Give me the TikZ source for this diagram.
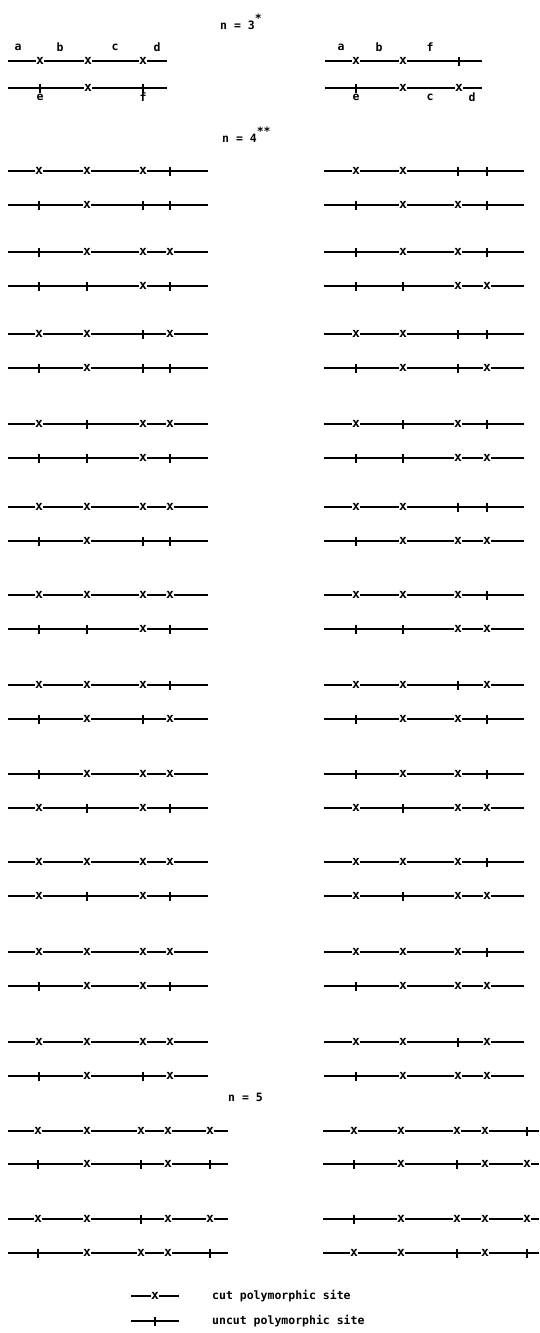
\documentclass[tikz,border=0pt]{standalone}
\usepackage{fontspec}
\setmonofont{DejaVu Sans Mono}
\begin{document}
\begin{tikzpicture}[x=1pt,y=-1pt,
  every node/.style={font=\ttfamily\bfseries\fontsize{11.5}{13}\selectfont},
  siteline/.style={line width=1.1pt},
  site x/.pic={\node[fill=white,inner sep=0.4pt,font=\ttfamily\bfseries\fontsize{13}{13}\selectfont] {x};},
  site u/.pic={\draw[line width=1.2pt] (0,-4.5) -- (0,4.5);},
  lbl/.style={inner sep=0pt},
  heading/.style={inner sep=0pt,anchor=west}]
  \useasboundingbox (0,0) rectangle (539,1333);

  % n = 3
  \node[heading] (head3) at (220,22) {n = 3\rlap{\raisebox{1.1ex}{*}}};
  \draw[siteline] (8,61) -- (167,61);
  \draw[siteline] (8,88) -- (167,88);
  \pic at (40,61) {site x}; \pic at (88,61) {site x}; \pic at (143,61) {site x};
  \pic at (40,88) {site u}; \pic at (88,88) {site x}; \pic at (143,88) {site u};
  \node[lbl] (la) at (18,47) {a};
  \node[lbl] (lb) at (60,47) {b};
  \node[lbl] (lc) at (115,47) {c};
  \node[lbl] (ld) at (157,47) {d};
  \node[lbl] (le) at (40,97) {e};
  \node[lbl] (lf) at (143,97) {f};

  \draw[siteline] (325,61) -- (482,61);
  \draw[siteline] (325,88) -- (482,88);
  \pic at (356,61) {site x}; \pic at (403,61) {site x}; \pic at (459,61) {site u};
  \pic at (356,88) {site u}; \pic at (403,88) {site x}; \pic at (459,88) {site x};
  \node[lbl] (ra) at (341,47) {a};
  \node[lbl] (rb) at (379,47) {b};
  \node[lbl] (rf) at (430,47) {f};
  \node[lbl] (re) at (356,97) {e};
  \node[lbl] (rc) at (430,97) {c};
  \node[lbl] (rd) at (472,97) {d};

  % n = 4
  \node[heading] (head4) at (222,135) {n = 4\rlap{\raisebox{1.1ex}{**}}};
  \foreach \y/\a/\b/\c/\d in {171/x/x/x/u, 205/u/x/u/u, 252/u/x/x/x, 286/u/u/x/u,
      334/x/x/u/x, 368/u/x/u/u, 424/x/u/x/x, 458/u/u/x/u,
      507/x/x/x/x, 541/u/x/u/u, 595/x/x/x/x, 629/u/u/x/u,
      685/x/x/x/u, 719/u/x/u/x, 774/u/x/x/x, 808/x/u/x/u,
      862/x/x/x/x, 896/x/u/x/u, 952/x/x/x/x, 986/u/x/x/u,
      1042/x/x/x/x, 1076/u/x/u/x}{
    \draw[siteline] (8,\y) -- (208,\y);
    \pic at (39,\y) {site \a};
    \pic at (87,\y) {site \b};
    \pic at (143,\y) {site \c};
    \pic at (170,\y) {site \d};
  }
  \foreach \y/\a/\b/\c/\d in {171/x/x/u/u, 205/u/x/x/u, 252/u/x/x/u, 286/u/u/x/x,
      334/x/x/u/u, 368/u/x/u/x, 424/x/u/x/u, 458/u/u/x/x,
      507/x/x/u/u, 541/u/x/x/x, 595/x/x/x/u, 629/u/u/x/x,
      685/x/x/u/x, 719/u/x/x/u, 774/u/x/x/u, 808/x/u/x/x,
      862/x/x/x/u, 896/x/u/x/x, 952/x/x/x/u, 986/u/x/x/x,
      1042/x/x/u/x, 1076/u/x/x/x}{
    \draw[siteline] (324,\y) -- (524,\y);
    \pic at (356,\y) {site \a};
    \pic at (403,\y) {site \b};
    \pic at (458,\y) {site \c};
    \pic at (487,\y) {site \d};
  }

  % n = 5
  \node[heading] (head5) at (228,1097) {n = 5};
  \foreach \y/\a/\b/\c/\d/\e in {1131/x/x/x/x/x, 1164/u/x/u/x/u,
      1219/x/x/u/x/x, 1253/u/x/x/x/u}{
    \draw[siteline] (8,\y) -- (228,\y);
    \pic at (38,\y) {site \a};
    \pic at (87,\y) {site \b};
    \pic at (141,\y) {site \c};
    \pic at (168,\y) {site \d};
    \pic at (210,\y) {site \e};
  }
  \foreach \y/\a/\b/\c/\d/\e in {1131/x/x/x/x/u, 1164/u/x/u/x/x,
      1219/u/x/x/x/x, 1253/x/x/u/x/u}{
    \draw[siteline] (323,\y) -- (539,\y);
    \pic at (354,\y) {site \a};
    \pic at (401,\y) {site \b};
    \pic at (457,\y) {site \c};
    \pic at (485,\y) {site \d};
    \pic at (527,\y) {site \e};
  }

  % key
  \coordinate (kx0) at (131,1296);
  \coordinate (kx1) at (179,1296);
  \coordinate (ku0) at (131,1321);
  \coordinate (ku1) at (179,1321);
  \draw[siteline] (kx0) -- (kx1);
  \draw[siteline] (ku0) -- (ku1);
  \pic at (155,1296) {site x};
  \pic at (155,1321) {site u};
  \node[heading] (keycut) at (212,1296) {cut polymorphic site};
  \node[heading] (keyuncut) at (212,1321) {uncut polymorphic site};
\end{tikzpicture}
\end{document}
